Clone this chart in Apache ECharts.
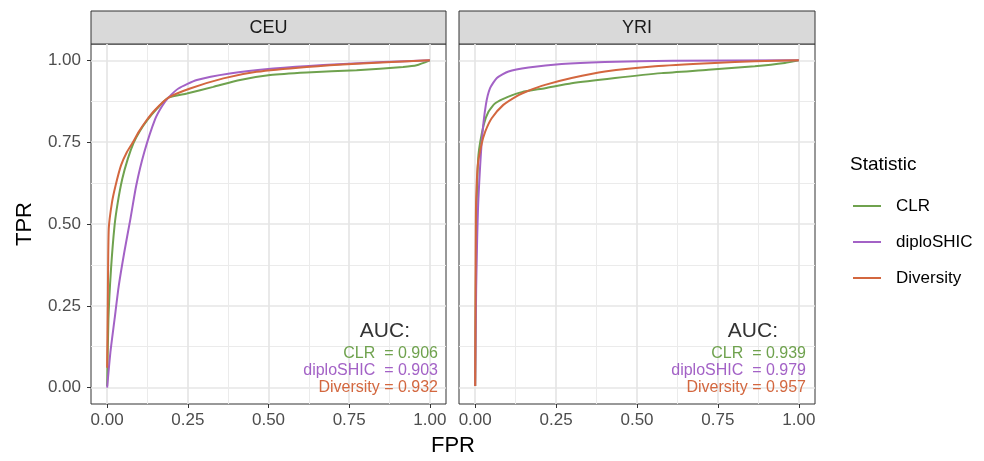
<!DOCTYPE html>
<html>
<head>
<meta charset="utf-8">
<script src="https://cdn.jsdelivr.net/npm/echarts@6/dist/echarts.min.js"></script>
<style>
  html, body { margin: 0; padding: 0; background: #fff; }
  #chart { width: 984px; height: 461px; }
</style>
</head>
<body>
<div id="chart"></div>
<script>
// ROC 曲线数据 [FPR, TPR]
const panels = ['CEU', 'YRI']
const statistics = ['CLR', 'diploSHIC', 'Diversity']
const colors = ['#6FA24E', '#A362C6', '#D3673F']

const ceuCLR = [[0, 0.005], [0.004, 0.209], [0.012, 0.362], [0.023, 0.495], [0.033, 0.566], [0.047, 0.638],
  [0.064, 0.699], [0.082, 0.748], [0.102, 0.785], [0.125, 0.818], [0.154, 0.852], [0.19, 0.886], [0.247, 0.899],
  [0.329, 0.919], [0.412, 0.94], [0.505, 0.955], [0.618, 0.963], [0.773, 0.97], [0.917, 0.98], [0.959, 0.985], [1, 1]]
const ceuDiploSHIC = [[0, 0], [0.01, 0.107], [0.023, 0.209], [0.036, 0.311], [0.053, 0.413], [0.072, 0.515],
  [0.09, 0.617], [0.115, 0.719], [0.149, 0.821], [0.17, 0.86], [0.19, 0.886], [0.221, 0.914], [0.278, 0.94],
  [0.38, 0.96], [0.515, 0.975], [0.67, 0.986], [0.855, 0.995], [1, 1]]
const ceuDiversity = [[0, 0.061], [0.002, 0.25], [0.005, 0.485], [0.015, 0.566], [0.026, 0.617], [0.043, 0.679],
  [0.061, 0.719], [0.079, 0.748], [0.097, 0.78], [0.12, 0.814], [0.149, 0.849], [0.19, 0.886], [0.257, 0.914],
  [0.36, 0.945], [0.463, 0.965], [0.618, 0.98], [0.773, 0.99], [1, 1]]

const yriCLR = [[0, 0.005], [0.002, 0.3], [0.004, 0.5], [0.005, 0.577], [0.01, 0.71], [0.026, 0.802], [0.041, 0.843],
  [0.062, 0.869], [0.103, 0.889], [0.144, 0.903], [0.216, 0.915], [0.298, 0.93], [0.432, 0.946], [0.576, 0.961],
  [0.72, 0.971], [0.864, 0.982], [0.957, 0.992], [1, 1]]
const yriDiploSHIC = [[0, 0.005], [0.003, 0.3], [0.006, 0.45], [0.01, 0.577], [0.021, 0.761], [0.033, 0.864],
  [0.046, 0.915], [0.067, 0.946], [0.103, 0.966], [0.165, 0.978], [0.267, 0.989], [0.4, 0.995], [0.61, 0.999], [1, 1]]
const yriDiversity = [[0, 0.005], [0.001, 0.3], [0.002, 0.5], [0.003, 0.577], [0.008, 0.679], [0.019, 0.741],
  [0.031, 0.782], [0.051, 0.823], [0.087, 0.864], [0.134, 0.894], [0.159, 0.905], [0.216, 0.925], [0.298, 0.946],
  [0.401, 0.966], [0.556, 0.982], [0.74, 0.992], [0.864, 0.997], [1, 1]]

const aucCEU = ['0.906', '0.903', '0.932']
const aucYRI = ['0.939', '0.979', '0.957']
const aucPrefix = ['CLR  = ', 'diploSHIC  = ', 'Diversity = ']

const majorTicks = [0, 0.25, 0.5, 0.75, 1]
const minorTicks = [0.125, 0.375, 0.625, 0.875]

const font = '"Liberation Sans", Arial, sans-serif'
const grids = [
  { left: 91, top: 44, width: 355, height: 360 },
  { left: 459, top: 44, width: 356, height: 360 }
]

const majorAxis = (dim, gi, showLabel) => ({
  type: 'value', gridIndex: gi, min: -0.05, max: 1.05,
  position: dim === 'x' ? 'bottom' : 'left',
  axisLine: { show: false, onZero: false },
  axisTick: { show: showLabel, customValues: majorTicks, length: 4, lineStyle: { color: '#333333', width: 1 } },
  axisLabel: {
    show: showLabel, customValues: majorTicks, formatter: (v) => v.toFixed(2),
    color: '#4D4D4D', fontSize: 17, fontFamily: font, margin: dim === 'x' ? 8 : 10
  },
  splitLine: { show: true, lineStyle: { color: '#E6E6E6', width: 1.7 } }
})
const minorAxis = (gi, pos) => ({
  type: 'value', gridIndex: gi, min: -0.05, max: 1.05, position: pos,
  axisLine: { show: false, onZero: false },
  axisTick: { show: false, customValues: minorTicks },
  axisLabel: { show: false, customValues: minorTicks },
  splitLine: { show: true, lineStyle: { color: '#EBEBEB', width: 1 } }
})

const panelData = [[ceuCLR, ceuDiploSHIC, ceuDiversity], [yriCLR, yriDiploSHIC, yriDiversity]]
const series = []
panelData.forEach((arr, gi) => {
  arr.forEach((d, si) => {
    series.push({
      name: statistics[si], type: 'line', xAxisIndex: gi * 2, yAxisIndex: gi * 2,
      data: d, showSymbol: false, smooth: 0.2, z: 3,
      lineStyle: { width: 2, color: colors[si] }, itemStyle: { color: colors[si] }
    })
  })
})

// 分面标题条 + AUC 注释
const graphic = []
panels.forEach((p, i) => {
  const g = grids[i]
  graphic.push({
    type: 'rect', shape: { x: g.left, y: 11, width: g.width, height: 33 },
    style: { fill: '#D9D9D9', stroke: '#333333', lineWidth: 1 }
  })
  graphic.push({
    type: 'text', x: g.left + g.width / 2, y: 28,
    style: { text: p, fill: '#1A1A1A', font: '18px ' + font, align: 'center', verticalAlign: 'middle' }
  })
  const auc = i === 0 ? aucCEU : aucYRI
  const right = i === 0 ? 438 : 806
  graphic.push({
    type: 'text', x: right - 28, y: 331, z: 10,
    style: { text: 'AUC:', fill: '#333333', font: '21px ' + font, align: 'right', verticalAlign: 'middle' }
  })
  auc.forEach((v, k) => {
    graphic.push({
      type: 'text', x: right, y: 354 + k * 17, z: 10,
      style: { text: aucPrefix[k] + v, fill: colors[k], font: '16px ' + font, align: 'right', verticalAlign: 'middle' }
    })
  })
})
graphic.push({
  type: 'text', x: 453, y: 446,
  style: { text: 'FPR', fill: '#000', font: '22px ' + font, align: 'center', verticalAlign: 'middle' }
})
graphic.push({
  type: 'text', x: 25, y: 224, rotation: Math.PI / 2,
  style: { text: 'TPR', fill: '#000', font: '22px ' + font, align: 'center', verticalAlign: 'middle' }
})
graphic.push({
  type: 'text', x: 850, y: 165,
  style: { text: 'Statistic', fill: '#000', font: '19px ' + font, align: 'left', verticalAlign: 'middle' }
})

const chart = echarts.init(document.getElementById('chart'))
chart.setOption({
  animation: false,
  grid: grids.map(g => Object.assign({ show: true, borderColor: '#333333', borderWidth: 1, backgroundColor: '#fff', containLabel: false }, g)),
  xAxis: [majorAxis('x', 0, true), minorAxis(0, 'top'), majorAxis('x', 1, true), minorAxis(1, 'top')],
  yAxis: [majorAxis('y', 0, true), minorAxis(0, 'right'), majorAxis('y', 1, false), minorAxis(1, 'right')],
  legend: {
    orient: 'vertical', left: 853, top: 196, padding: 0,
    icon: 'rect', itemWidth: 28, itemHeight: 2, itemGap: 16,
    data: statistics,
    textStyle: { fontSize: 17, fontFamily: font, color: '#000', lineHeight: 20, padding: [0, 0, 0, 10] }
  },
  graphic: graphic,
  series: series
})
</script>
</body>
</html>
